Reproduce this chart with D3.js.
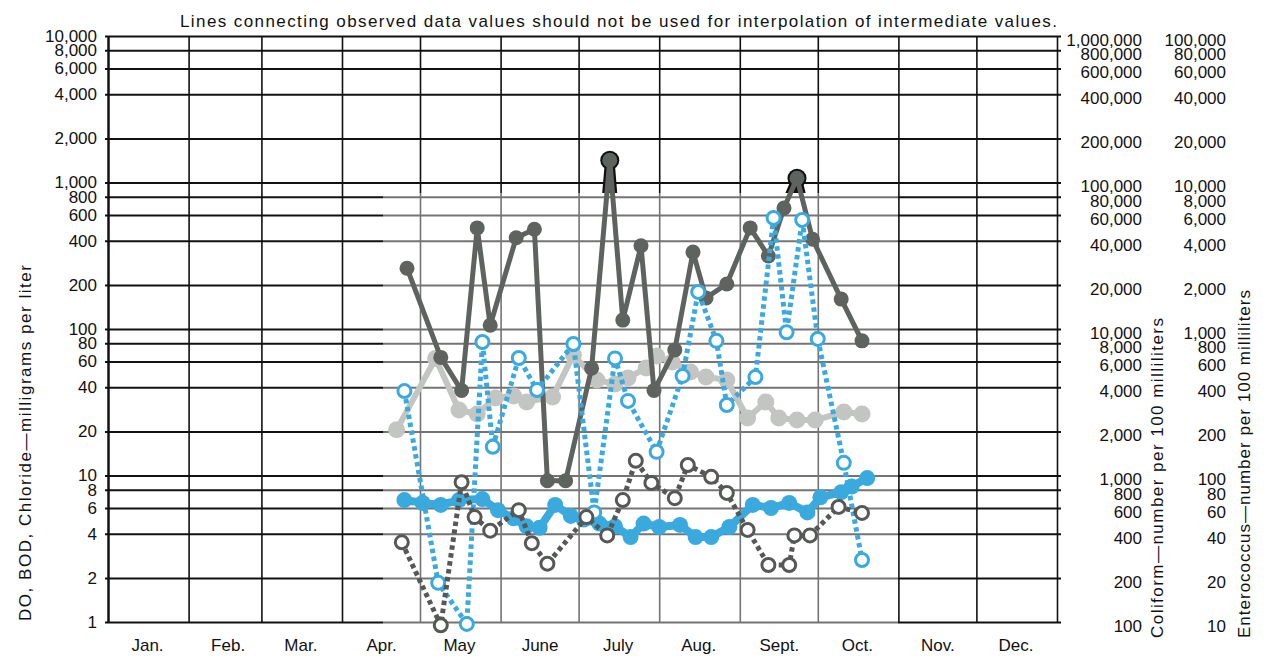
<!DOCTYPE html>
<html>
<head>
<meta charset="utf-8">
<script src="https://cdn.jsdelivr.net/npm/d3@7"></script>
<style>
  body { margin: 0; background: #fff; }
  svg { display: block; font-family: 'Liberation Sans', Arial, sans-serif; }
  .lbl text { font-size: 17px; fill: #111; }
</style>
</head>
<body>
<svg id="chart" width="1265" height="663"></svg>
<script>

const monthNames = ['Jan.', 'Feb.', 'Mar.', 'Apr.', 'May', 'June', 'July', 'Aug.', 'Sept.', 'Oct.', 'Nov.', 'Dec.'];
const leftTicks = [1, 2, 4, 6, 8, 10, 20, 40, 60, 80, 100, 200, 400, 600, 800, 1000, 2000, 4000, 6000, 8000, 10000];
const coliformTicks = [100, 200, 400, 600, 800, 1000, 2000, 4000, 6000, 8000, 10000, 20000, 40000, 60000, 80000,
  100000, 200000, 400000, 600000, 800000, 1000000];
const enteroTicks = [10, 20, 40, 60, 80, 100, 200, 400, 600, 800, 1000, 2000, 4000, 6000, 8000,
  10000, 20000, 40000, 60000, 80000, 100000];

// dissolved oxygen, mg/l
const doData = [
  ['04-25', 6.8], ['05-02', 6.5], ['05-09', 6.3], ['05-16', 6.8], ['05-25', 6.9], ['05-31', 5.8],
  ['06-06', 5.1], ['06-11', 4.5], ['06-16', 4.4], ['06-22', 6.3], ['06-28', 5.3], ['07-03', 5.0],
  ['07-09', 4.7], ['07-15', 4.5], ['07-21', 3.8], ['07-26', 4.7], ['08-01', 4.45], ['08-09', 4.6],
  ['08-15', 3.8], ['08-21', 3.8], ['08-28', 4.45], ['09-06', 6.3], ['09-13', 6.0], ['09-20', 6.5],
  ['09-27', 5.6], ['10-02', 7.1], ['10-10', 7.7], ['10-14', 8.4], ['10-20', 9.6]
];

// BOD, mg/l
const bodData = [
  ['04-24', 3.5], ['05-09', 0.95], ['05-17', 9.0], ['05-22', 5.2], ['05-28', 4.2], ['06-08', 5.8],
  ['06-13', 3.45], ['06-19', 2.5], ['07-04', 5.2], ['07-12', 3.9], ['07-18', 6.8], ['07-23', 12.6],
  ['07-29', 8.9], ['08-07', 7.0], ['08-12', 11.8], ['08-21', 9.8], ['08-27', 7.6], ['09-04', 4.25],
  ['09-12', 2.45], ['09-20', 2.45], ['09-22', 3.9], ['09-28', 3.9], ['10-09', 6.1], ['10-18', 5.55]
];

// chloride, mg/l
const chlorideData = [
  ['04-22', 20.5], ['05-07', 63], ['05-16', 28], ['05-23', 26.3], ['05-30', 33.8], ['06-06', 34.9],
  ['06-11', 31.8], ['06-21', 34.4], ['06-29', 66.5], ['07-08', 44.9], ['07-15', 42.1], ['07-20', 46.3],
  ['07-27', 54.2], ['07-31', 65.4], ['08-06', 59.5], ['08-13', 50.9], ['08-19', 47], ['08-27', 44.9],
  ['09-04', 24.7], ['09-11', 31.8], ['09-16', 24.7], ['09-23', 23.9], ['09-30', 23.9], ['10-11', 27.1],
  ['10-18', 26.3]
];

// coliform, number per 100 ml
const coliformData = [
  ['04-26', 26000], ['05-09', 6400], ['05-17', 3800], ['05-23', 49000], ['05-28', 10600], ['06-07', 42000],
  ['06-14', 48000], ['06-19', 920], ['06-26', 920], ['07-06', 5400], ['07-13', 142000], ['07-18', 11500],
  ['07-25', 37000], ['07-30', 3800], ['08-07', 7200], ['08-14', 33500], ['08-19', 16300], ['08-27', 20300],
  ['09-05', 49000], ['09-12', 31500], ['09-18', 67000], ['09-23', 107000], ['09-29', 41000], ['10-10', 16000],
  ['10-18', 8300]
];

// enterococcus, number per 100 ml
const enteroData = [
  ['04-25', 377], ['05-08', 18.5], ['05-19', 9.7], ['05-25', 815], ['05-29', 157], ['06-08', 634],
  ['06-15', 383], ['06-29', 790], ['07-07', 56], ['07-15', 630], ['07-20', 323], ['07-31', 145],
  ['08-10', 478], ['08-16', 1790], ['08-23', 830], ['08-27', 303], ['09-07', 470], ['09-14', 5730],
  ['09-19', 950], ['09-25', 5550], ['10-01', 855], ['10-11', 122], ['10-18', 26.5]
];

const plot = { left: 108, right: 1057, top: 36, bottom: 622 };
// faded patch of the scanned sheet behind the data
const shade = { x0: 383, x1: 898, y0: 193, y1: 630 };

const parseDay = d3.timeParse('%m-%d');   // year 1900, not a leap year

const xScale = d3.scaleTime()
  .domain([new Date(1900, 0, 1), new Date(1901, 0, 1)])
  .range([plot.left, plot.right]);
const yLeft = d3.scaleLog().domain([1, 10000]).range([plot.bottom, plot.top]);
const yColi = d3.scaleLog().domain([100, 1000000]).range([plot.bottom, plot.top]);
const yEntero = d3.scaleLog().domain([10, 100000]).range([plot.bottom, plot.top]);

const svg = d3.select('#chart');

function cleanAxis(g) {
  g.attr('font-size', null).attr('font-family', null);
  g.select('.domain').remove();
}

// horizontal grid
svg.append('g')
  .attr('transform', `translate(${plot.left - 3},0)`)
  .call(d3.axisLeft(yLeft).tickValues(leftTicks).tickFormat('').tickSize(-(plot.right - plot.left + 7)))
  .call(cleanAxis)
  .selectAll('line').attr('stroke', '#111').attr('stroke-width', 2);

// month lines
svg.append('g')
  .attr('transform', `translate(0,${plot.bottom})`)
  .call(d3.axisBottom(xScale)
    .tickValues(d3.timeMonth.range(new Date(1900, 0, 1), new Date(1901, 0, 2)))
    .tickFormat('').tickSize(-(plot.bottom - plot.top)))
  .call(cleanAxis)
  .selectAll('line').attr('stroke', '#111').attr('stroke-width', (d, i) => i === 0 ? 2.5 : 1.6);

// fade the grid where the data sits
svg.append('rect')
  .attr('x', shade.x0).attr('y', shade.y0)
  .attr('width', shade.x1 - shade.x0).attr('height', shade.y1 - shade.y0)
  .attr('fill', '#fff').attr('opacity', 0.42);

// left labels
svg.append('g').attr('class', 'lbl')
  .attr('transform', `translate(${plot.left},0)`)
  .call(d3.axisLeft(yLeft).tickValues(leftTicks).tickFormat(d3.format(',')).tickSize(0).tickPadding(11))
  .call(cleanAxis);

// right labels
svg.append('g').attr('class', 'lbl')
  .attr('transform', 'translate(1142,4)')
  .call(d3.axisRight(yColi).tickValues(coliformTicks).tickFormat(d3.format(',')).tickSize(0))
  .call(cleanAxis)
  .selectAll('text').attr('x', 0).attr('text-anchor', 'end');

svg.append('g').attr('class', 'lbl')
  .attr('transform', 'translate(1226,4)')
  .call(d3.axisRight(yEntero).tickValues(enteroTicks).tickFormat(d3.format(',')).tickSize(0))
  .call(cleanAxis)
  .selectAll('text').attr('x', 0).attr('text-anchor', 'end');

// month names
svg.append('g').attr('class', 'lbl')
  .attr('transform', `translate(0,${plot.bottom})`)
  .call(d3.axisBottom(xScale)
    .tickValues(monthNames.map((m, i) => new Date(1900, i, 16)))
    .tickFormat((d, i) => monthNames[i]).tickSize(0).tickPadding(17))
  .call(cleanAxis);

// titles
svg.append('text')
  .attr('x', 180).attr('y', 27)
  .attr('textLength', 877).attr('lengthAdjust', 'spacing')
  .style('font-size', '17px').attr('fill', '#111')
  .text('Lines connecting observed data values should not be used for interpolation of intermediate values.');

function sideTitle(x, yBottom, len, label) {
  svg.append('text')
    .attr('transform', `translate(${x},${yBottom}) rotate(-90)`)
    .attr('textLength', len).attr('lengthAdjust', 'spacing')
    .style('font-size', '17px').attr('fill', '#111')
    .text(label);
}
sideTitle(31, 621, 356, 'DO, BOD, Chloride\u2014milligrams per liter');
sideTitle(1163, 638, 320, 'Coliform\u2014number per 100 milliliters');
sideTitle(1250, 638, 348, 'Enterococcus\u2014number per 100 milliliters');

// series
function toPoints(data) {
  return data.map(([d, v]) => ({ date: parseDay(d), value: v }));
}

function drawSeries(parent, data, yS, o) {
  const pts = toPoints(data);
  const line = d3.line().x(d => xScale(d.date)).y(d => yS(d.value));
  const g = parent.append('g');
  g.append('path').datum(pts)
    .attr('d', line)
    .attr('fill', 'none')
    .attr('stroke', o.color)
    .attr('stroke-width', o.width)
    .attr('stroke-dasharray', o.dash || null)
    .attr('stroke-linejoin', 'round');
  g.selectAll('circle').data(pts).join('circle')
    .attr('cx', d => xScale(d.date))
    .attr('cy', d => yS(d.value))
    .attr('r', o.r)
    .attr('fill', o.open ? '#fff' : o.color)
    .attr('stroke', o.open ? o.color : 'none')
    .attr('stroke-width', o.open ? 3 : 0);
  return g;
}

const blue = '#3aaade';

drawSeries(svg, chlorideData, yLeft, { color: '#c3c5c2', width: 6, r: 8.5 });
drawSeries(svg, doData, yLeft, { color: blue, width: 8, r: 8 });

// coliform: above the faded patch the ink shows a black rim
svg.append('clipPath').attr('id', 'above-shade')
  .append('rect').attr('x', 0).attr('y', 0).attr('width', 1265).attr('height', shade.y0);
const rim = svg.append('g').attr('clip-path', 'url(#above-shade)');
drawSeries(rim, coliformData, yColi, { color: '#111', width: 9.5, r: 9.5 });
drawSeries(svg, coliformData, yColi, { color: '#5f635f', width: 5, r: 7.5 });

drawSeries(svg, enteroData, yEntero, { color: blue, width: 5, r: 6.5, dash: '4.5 3.5', open: true });
drawSeries(svg, bodData, yLeft, { color: '#555855', width: 5, r: 6.5, dash: '4.5 3.5', open: true });

</script>
</body>
</html>
